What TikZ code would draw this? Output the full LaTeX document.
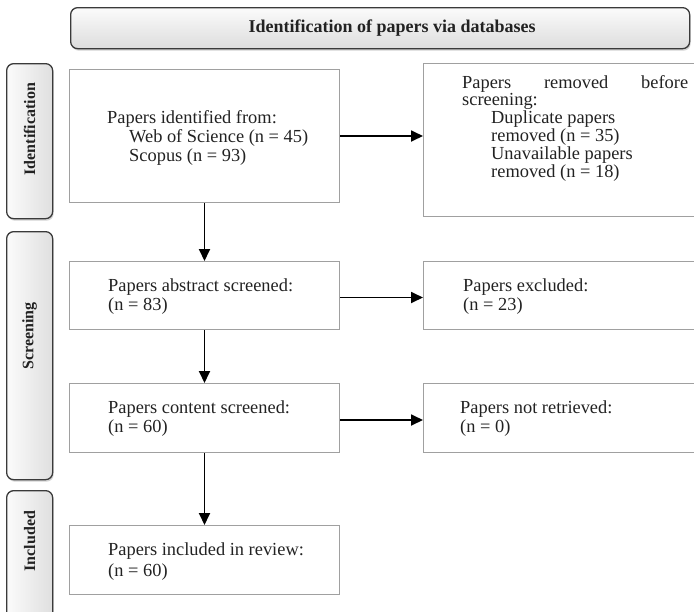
\documentclass[tikz,border=0pt]{standalone}
\usepackage{fontspec}
\setmainfont{Liberation Serif}
\usetikzlibrary{arrows.meta,shadows}
\definecolor{boxgray}{HTML}{A0A0A0}
\definecolor{darkline}{HTML}{3A3A3A}
\definecolor{txt}{HTML}{222222}
\tikzset{
  box/.style={draw=boxgray, line width=1pt, rectangle, inner sep=0pt, anchor=north west},
  lbl/.style={anchor=west, align=left, inner sep=0pt, text=txt, font=\fontsize{18.4}{19}\selectfont},
  arr/.style={-{Triangle[length=12pt,width=11pt]}, line width=1.8pt, black},
  headbox/.style={draw=darkline, line width=1.3pt, rounded corners=7pt, inner sep=0pt,
    top color=gray!3, bottom color=gray!27, anchor=north west,
    drop shadow={opacity=0.35, shadow xshift=1pt, shadow yshift=-2pt},
    font=\bfseries\fontsize{18}{20}\selectfont, text=txt},
  phasebox/.style={draw=darkline, line width=1.3pt, rounded corners=7pt, inner sep=0pt,
    left color=gray!3, right color=gray!25, anchor=north west,
    drop shadow={opacity=0.35, shadow xshift=1pt, shadow yshift=-2pt}},
  phaselbl/.style={rotate=90, font=\bfseries\fontsize{16}{18}\selectfont, text=txt, inner sep=0pt}
}
\begin{document}
\begin{tikzpicture}[x=1pt, y=-1pt]
\useasboundingbox (0,0) rectangle (694,611);
\clip (0,0) rectangle (694,611);

% header
\node[headbox, minimum width=619pt, minimum height=41pt] (head) at (70,7)
  {\hspace*{24pt}Identification of papers via databases};

% phase bars
\node[phasebox, minimum width=46pt, minimum height=155pt] (pid) at (6,63) {};
\node[phaselbl] (pidl) at (pid.center |- 0,129) {Identification};
\node[phasebox, minimum width=46pt, minimum height=248pt] (psc) at (6,231) {};
\node[phaselbl] (pscl) at (psc.center |- 0,336) {Screening};
\node[phasebox, minimum width=46pt, minimum height=135pt] (pin) at (6,490) {};
\node[phaselbl] (pinl) at (pin.center |- 0,541) {Included};

% left boxes
\node[box, minimum width=270pt, minimum height=133pt] (b1) at (69,69) {};
\node[lbl] (t1) at ([xshift=38pt,yshift=-2pt]b1.west)
  {Papers identified from:\\\hspace*{22pt}Web of Science (n = 45)\\\hspace*{22pt}Scopus (n = 93)};
\node[box, minimum width=270pt, minimum height=68pt] (b2) at (69,261) {};
\node[lbl] (t2) at ([xshift=39pt,yshift=-1pt]b2.west) {Papers abstract screened:\\(n = 83)};
\node[box, minimum width=270pt, minimum height=69pt] (b3) at (69,383) {};
\node[lbl] (t3) at ([xshift=39pt,yshift=-1pt]b3.west) {Papers content screened:\\(n = 60)};
\node[box, minimum width=270pt, minimum height=69pt] (b4) at (69,525) {};
\node[lbl, font=\fontsize{18.4}{21}\selectfont] (t4) at ([xshift=39pt,yshift=-2pt]b4.west) {Papers included in review:\\(n = 60)};

% right boxes
\node[box, minimum width=280pt, minimum height=153pt] (rm) at (423,63) {};
\node[lbl, font=\fontsize{18.4}{17.8}\selectfont] (trm) at (462,128)
  {\makebox[226pt][s]{Papers\hfill removed\hfill before}\\screening:\\
   \hspace*{29pt}Duplicate papers\\\hspace*{29pt}removed (n = 35)\\
   \hspace*{29pt}Unavailable papers\\\hspace*{29pt}removed (n = 18)};
\node[box, minimum width=280pt, minimum height=68pt] (ex) at (423,261) {};
\node[lbl] (tex) at ([xshift=40pt,yshift=-1pt]ex.west) {Papers excluded:\\(n = 23)};
\node[box, minimum width=280pt, minimum height=69pt] (nr) at (423,383) {};
\node[lbl] (tnr) at ([xshift=37pt,yshift=-1pt]nr.west) {Papers not retrieved:\\(n = 0)};

% arrows
\draw[arr] (b1.east) -- (b1.east -| rm.west);
\draw[arr] ([yshift=-2pt]b2.east) -- ([yshift=-2pt]ex.west);
\draw[arr] ([yshift=-2pt]b3.east) -- ([yshift=-2pt]nr.west);
\draw[arr] (b1.south) -- (b2.north);
\draw[arr] (b2.south) -- (b3.north);
\draw[arr] (b3.south) -- (b4.north);
\end{tikzpicture}
\end{document}
